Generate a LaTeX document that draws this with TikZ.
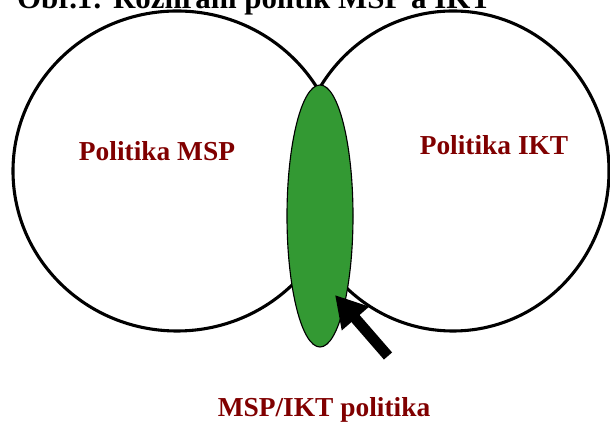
\documentclass[tikz,border=0pt]{standalone}
\usepackage{fontspec}
\setmainfont{Liberation Serif}
\usepackage{xcolor}
\definecolor{polred}{RGB}{128,0,0}
\definecolor{polgreen}{RGB}{51,153,51}
\usetikzlibrary{arrows.meta,shapes.geometric}

\begin{document}
\begin{tikzpicture}[
  vennset/.style={draw=black, ellipse, line width=2.2pt, inner sep=0pt, minimum height=8cm},
  setlabel/.style={anchor=base, font=\fontsize{19.5}{23}\selectfont\bfseries, text=polred}]
  \useasboundingbox (0,0) rectangle (15.25,10.575);

  %% Title (cut by the page edge)
  \node[anchor=base west, font=\fontsize{22}{26}\selectfont\bfseries, inner sep=0pt] (title) at (0.42,10.36) {Obr.1: Rozhraní politik MSP a IKT};

  %% The two policy sets
  \node[vennset, minimum width=8.2cm] (msp) at (4.425,6.3) {};
  \node[vennset, minimum width=7.8cm] (ikt) at (11.325,6.3) {};
  \node[setlabel] (msplabel) at (3.925,6.55) {Politika MSP};
  \node[setlabel] (iktlabel) at (12.35,6.7) {Politika IKT};

  %% Overlap
  \node[draw=black, fill=polgreen, ellipse, line width=0.8pt, inner sep=0pt, minimum width=1.65cm, minimum height=6.55cm] (overlap) at (8.0,5.175) {};

  %% Pointer to the overlap
  \coordinate (tip) at (8.375,3.2);
  \coordinate (tail) at (9.7,1.675);
  \draw[line width=0.27cm, -{Triangle[length=0.78cm,width=0.85cm]}] (tail) -- (tip);
  \node[setlabel] (overlaplabel) at (8.1,0.15) {MSP/IKT politika};
\end{tikzpicture}
\end{document}
